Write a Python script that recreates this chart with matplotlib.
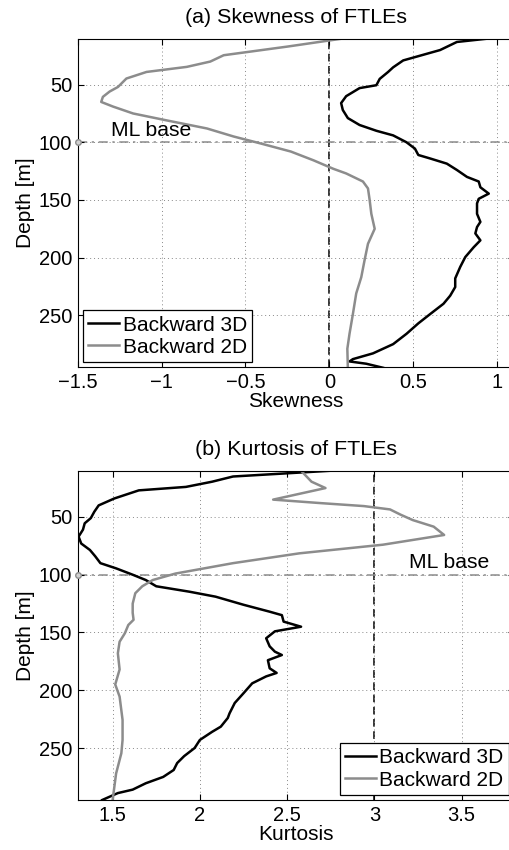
import matplotlib
matplotlib.use("Agg")
import matplotlib.pyplot as plt
import numpy as np

plt.rcParams['font.family'] = ['Liberation Sans', 'DejaVu Sans']

# (a) skewness profiles, depth in m
skew_3d_depth = [10, 13, 20, 29, 35, 39, 45, 50.5, 53, 60, 66, 72, 79, 85, 90, 94, 100,
                 105.5, 111, 114, 118.5, 124, 130, 134, 139, 144.5, 149, 153, 162, 169,
                 173.5, 179, 185, 191, 199.5, 208, 218, 225.5, 233, 240, 249, 257, 266,
                 275, 283, 288, 290, 292, 295.5]
skew_3d = [0.95, 0.76, 0.66, 0.44, 0.38, 0.35, 0.30, 0.28, 0.18, 0.10, 0.07, 0.08, 0.11,
           0.18, 0.28, 0.38, 0.46, 0.51, 0.53, 0.60, 0.70, 0.76, 0.82, 0.89, 0.90, 0.95,
           0.89, 0.88, 0.88, 0.90, 0.88, 0.87, 0.90, 0.86, 0.81, 0.78, 0.75, 0.75, 0.72,
           0.68, 0.60, 0.53, 0.46, 0.38, 0.26, 0.14, 0.12, 0.22, 0.32]

skew_2d_depth = [10, 17, 24.5, 30, 34.6, 39, 44.7, 52, 56, 60.6, 65, 69, 75, 81, 88, 95,
                 101, 108, 115.6, 123, 127, 134, 140, 150, 162, 175, 188, 202, 217, 231,
                 249, 266, 279, 295.5]
skew_2d = [0.08, -0.25, -0.63, -0.71, -0.85, -1.09, -1.21, -1.26, -1.31, -1.35, -1.36,
           -1.29, -1.17, -0.97, -0.73, -0.57, -0.41, -0.23, -0.095, 0.024, 0.10, 0.20,
           0.23, 0.24, 0.25, 0.27, 0.23, 0.21, 0.19, 0.16, 0.14, 0.12, 0.107, 0.11]

# (b) kurtosis profiles
kurt_3d_depth = [10, 15, 19.5, 24, 27, 34, 40, 45.5, 51, 55.5, 61, 67, 73, 78.6, 84, 90,
                 94.5, 100, 104.6, 110, 114.7, 119, 126, 132, 135, 140.6, 145, 149, 155,
                 162, 166.6, 169.5, 174, 181, 185, 188, 194, 202.6, 211, 220, 224, 231.5,
                 236, 243, 250, 257, 263, 269, 275, 280.5, 286, 289, 295]
kurt_3d = [2.75, 2.19, 2.07, 1.92, 1.65, 1.51, 1.42, 1.395, 1.375, 1.34, 1.33, 1.305,
           1.32, 1.37, 1.40, 1.43, 1.52, 1.615, 1.69, 1.75, 1.94, 2.09, 2.25, 2.40, 2.47,
           2.48, 2.58, 2.43, 2.38, 2.40, 2.43, 2.47, 2.39, 2.40, 2.44, 2.38, 2.30, 2.25,
           2.20, 2.17, 2.16, 2.12, 2.07, 2.00, 1.97, 1.91, 1.87, 1.85, 1.79, 1.69, 1.615,
           1.53, 1.44]

kurt_2d_depth = [10, 19.5, 25, 30, 35, 38, 40.6, 43.5, 48, 52.7, 58.4, 65.6, 74, 81.5, 90,
                 99, 104.6, 110, 116, 125, 133, 139, 143.5, 150.7, 158, 168, 182, 195,
                 205.5, 225.7, 243, 254.5, 272, 295]
kurt_2d = [2.58, 2.64, 2.72, 2.57, 2.42, 2.69, 2.94, 3.09, 3.15, 3.22, 3.34, 3.40, 3.05,
           2.57, 2.19, 1.86, 1.73, 1.67, 1.63, 1.615, 1.615, 1.62, 1.59, 1.57, 1.54, 1.53,
           1.54, 1.515, 1.54, 1.557, 1.557, 1.55, 1.52, 1.50]

ml_base = 100
gray = '#8c8c8c'


def draw_panel(ax, x3, d3, x2, d2, xlim, xticks, xticklabels, ref_x, title, xlabel,
               ml_x, legend_loc):
    ax.plot(x3, d3, color='black', lw=1.8, label='Backward 3D')
    ax.plot(x2, d2, color=gray, lw=1.8, label='Backward 2D')
    ax.axvline(ref_x, color='black', lw=1.1, ls=(0, (5, 3)), zorder=1)
    ax.plot([xlim[0], xlim[1]], [ml_base, ml_base], color=gray, lw=1.1,
            ls=(0, (6, 3, 1.5, 3)), zorder=1)
    ax.plot([xlim[0]], [ml_base], marker='o', ms=4, mfc='#d0d0d0', mec=gray,
            clip_on=False, zorder=5)
    ax.text(ml_x, ml_base - 2, 'ML base', fontsize=15.2, va='bottom', ha='left')

    ax.set_xlim(xlim)
    ax.set_ylim(295, 10)
    ax.set_xticks(xticks)
    ax.set_xticklabels(xticklabels)
    ax.set_yticks([50, 100, 150, 200, 250])
    ax.grid(True, ls=(0, (1, 3)), color='#888888', lw=0.7)
    ax.tick_params(direction='in', top=True, right=True, labelsize=14.5, length=4, pad=4)
    ax.set_title(title, fontsize=15.4, pad=11)
    ax.set_xlabel(xlabel, fontsize=15, labelpad=0)
    ax.set_ylabel('Depth [m]', fontsize=15, labelpad=3)
    leg = ax.legend(loc=legend_loc, fontsize=15, fancybox=False, framealpha=1,
                    edgecolor='black', borderaxespad=0.25, handlelength=1.5,
                    handletextpad=0.15, labelspacing=0.15, borderpad=0.25)
    leg.get_frame().set_linewidth(0.9)


fig = plt.figure(figsize=(5.09, 8.5), dpi=100)
ax1 = fig.add_axes([0.1527, 0.568, 0.857, 0.3867])
ax2 = fig.add_axes([0.1527, 0.0588, 0.857, 0.3874])

draw_panel(ax1, skew_3d, skew_3d_depth, skew_2d, skew_2d_depth, (-1.5, 1.1),
           [-1.5, -1, -0.5, 0, 0.5, 1], ['\u22121.5', '\u22121', '\u22120.5', '0', '0.5', '1'],
           0, '(a) Skewness of FTLEs', 'Skewness', -1.3, 'lower left')
draw_panel(ax2, kurt_3d, kurt_3d_depth, kurt_2d, kurt_2d_depth, (1.3, 3.8),
           [1.5, 2, 2.5, 3, 3.5], ['1.5', '2', '2.5', '3', '3.5'],
           3, '(b) Kurtosis of FTLEs', 'Kurtosis', 3.2, 'lower right')

fig.savefig('out.png', dpi=100)
